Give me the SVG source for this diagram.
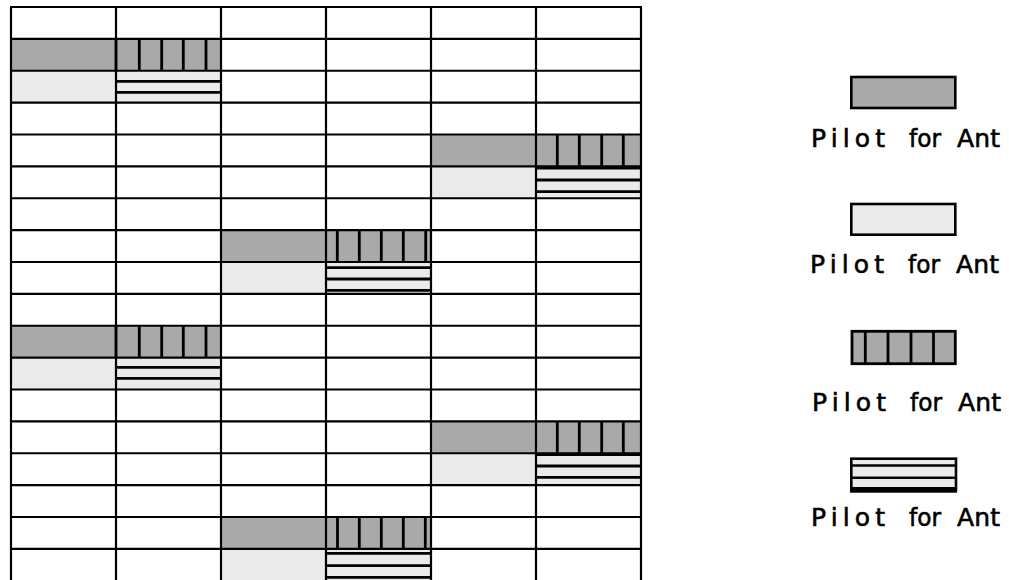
<svg xmlns="http://www.w3.org/2000/svg" width="1009" height="580" viewBox="0 0 1009 580">
<style>
.dk{fill:#a9a9a9}
.lt{fill:#eaeaea}
.g{stroke:#000;stroke-width:2.2;fill:none}
.h{stroke:#000;stroke-width:2.8;fill:none}
.lb{font-family:"DejaVu Sans","Liberation Sans",sans-serif;font-size:25px;fill:#000;stroke:#000;stroke-width:0.6}
</style>
<rect width="1009" height="580" fill="#fff"/>
<g id="pilots-fill">
  <g id="p1"><rect class="dk" x="11" y="38.875" width="210" height="31.875"/><rect class="lt" x="11" y="70.75" width="210" height="31.875"/></g>
  <g id="p2"><rect class="dk" x="431" y="134.5" width="210" height="31.875"/><rect class="lt" x="431" y="166.375" width="210" height="31.875"/></g>
  <g id="p3"><rect class="dk" x="221" y="230.125" width="210" height="31.875"/><rect class="lt" x="221" y="262" width="210" height="31.875"/></g>
  <g id="p4"><rect class="dk" x="11" y="325.75" width="210" height="31.875"/><rect class="lt" x="11" y="357.625" width="210" height="31.875"/></g>
  <g id="p5"><rect class="dk" x="431" y="421.375" width="210" height="31.875"/><rect class="lt" x="431" y="453.25" width="210" height="31.875"/></g>
  <g id="p6"><rect class="dk" x="221" y="517" width="210" height="31.875"/><rect class="lt" x="221" y="548.875" width="210" height="32"/></g>
</g>
<g id="grid" class="g">
  <path d="M11 7V581M116 7V581M221 7V581M326 7V581M431 7V581M536 7V581M641 7V581"/>
  <path d="M10 7H642M10 38.875H642M10 70.75H642M10 102.625H642M10 134.5H642M10 166.375H642M10 198.25H642M10 230.125H642M10 262H642M10 293.875H642M10 325.75H642M10 357.625H642M10 389.5H642M10 421.375H642M10 453.25H642M10 485.125H642M10 517H642M10 548.875H642"/>
</g>
<g id="hatches" class="h">
  <path d="M116 38.875V70.75M139.3 38.875V70.75M161.7 38.875V70.75M183.3 38.875V70.75M206 38.875V70.75"/>
  <path d="M116 81.3H221M116 92.3H221"/>
  <path d="M557.3 134.5V166.375M579.3 134.5V166.375M601.7 134.5V166.375M623.3 134.5V166.375"/>
  <path d="M536 168H641M536 180H641M536 191.7H641"/>
  <path d="M337.3 230.125V262M359.3 230.125V262M381.3 230.125V262M403.3 230.125V262M425.7 230.125V262"/>
  <path d="M326 267.7H431M326 279H431M326 290.3H431"/>
  <path d="M116 325.75V357.625M139.3 325.75V357.625M161.7 325.75V357.625M183.3 325.75V357.625M206 325.75V357.625"/>
  <path d="M116 367.3H221M116 378.3H221"/>
  <path d="M557.3 421.375V453.25M579.3 421.375V453.25M601.7 421.375V453.25M623.3 421.375V453.25"/>
  <path d="M536 454.5H641M536 466H641M536 477.3H641"/>
  <path d="M337.5 517V548.875M359.3 517V548.875M381.3 517V548.875M403.3 517V548.875M425.3 517V548.875"/>
  <path d="M326 553.3H431M326 565.7H431M326 577.3H431"/>
</g>
<g id="legend1">
  <rect x="851.3" y="77" width="104" height="31" fill="#a9a9a9" stroke="#000" stroke-width="2.6"/>
  <text class="lb" x="811" y="147.3" textLength="74" lengthAdjust="spacing">Pilot</text>
  <text class="lb" x="909" y="147.3" textLength="32" lengthAdjust="spacingAndGlyphs">for</text>
  <text class="lb" x="957" y="147.3" textLength="43" lengthAdjust="spacing">Ant</text>
</g>
<g id="legend2">
  <rect x="851.3" y="204" width="104" height="30.7" fill="#eaeaea" stroke="#000" stroke-width="2.6"/>
  <text class="lb" x="810" y="273.3" textLength="74" lengthAdjust="spacing">Pilot</text>
  <text class="lb" x="908" y="273.3" textLength="32" lengthAdjust="spacingAndGlyphs">for</text>
  <text class="lb" x="956" y="273.3" textLength="43" lengthAdjust="spacing">Ant</text>
</g>
<g id="legend3">
  <rect x="852" y="331.3" width="103.3" height="32.4" fill="#a9a9a9" stroke="#000" stroke-width="2.8"/>
  <path d="M865.3 331.3V363.7M888 331.3V363.7M911 331.3V363.7M933.5 331.3V363.7" stroke="#000" stroke-width="2.8"/>
  <text class="lb" x="812" y="410.7" textLength="74" lengthAdjust="spacing">Pilot</text>
  <text class="lb" x="910" y="410.7" textLength="32" lengthAdjust="spacingAndGlyphs">for</text>
  <text class="lb" x="958" y="410.7" textLength="43" lengthAdjust="spacing">Ant</text>
</g>
<g id="legend4">
  <rect x="851.3" y="458.7" width="104.7" height="31" fill="#eaeaea" stroke="#000" stroke-width="2.6"/>
  <path d="M851.3 465.5H956M851.3 477.8H956" stroke="#000" stroke-width="2.6"/>
  <rect x="850" y="487" width="107" height="5.7" fill="#000"/>
  <text class="lb" x="811" y="526" textLength="74" lengthAdjust="spacing">Pilot</text>
  <text class="lb" x="909" y="526" textLength="32" lengthAdjust="spacingAndGlyphs">for</text>
  <text class="lb" x="957" y="526" textLength="43" lengthAdjust="spacing">Ant</text>
</g>
</svg>
